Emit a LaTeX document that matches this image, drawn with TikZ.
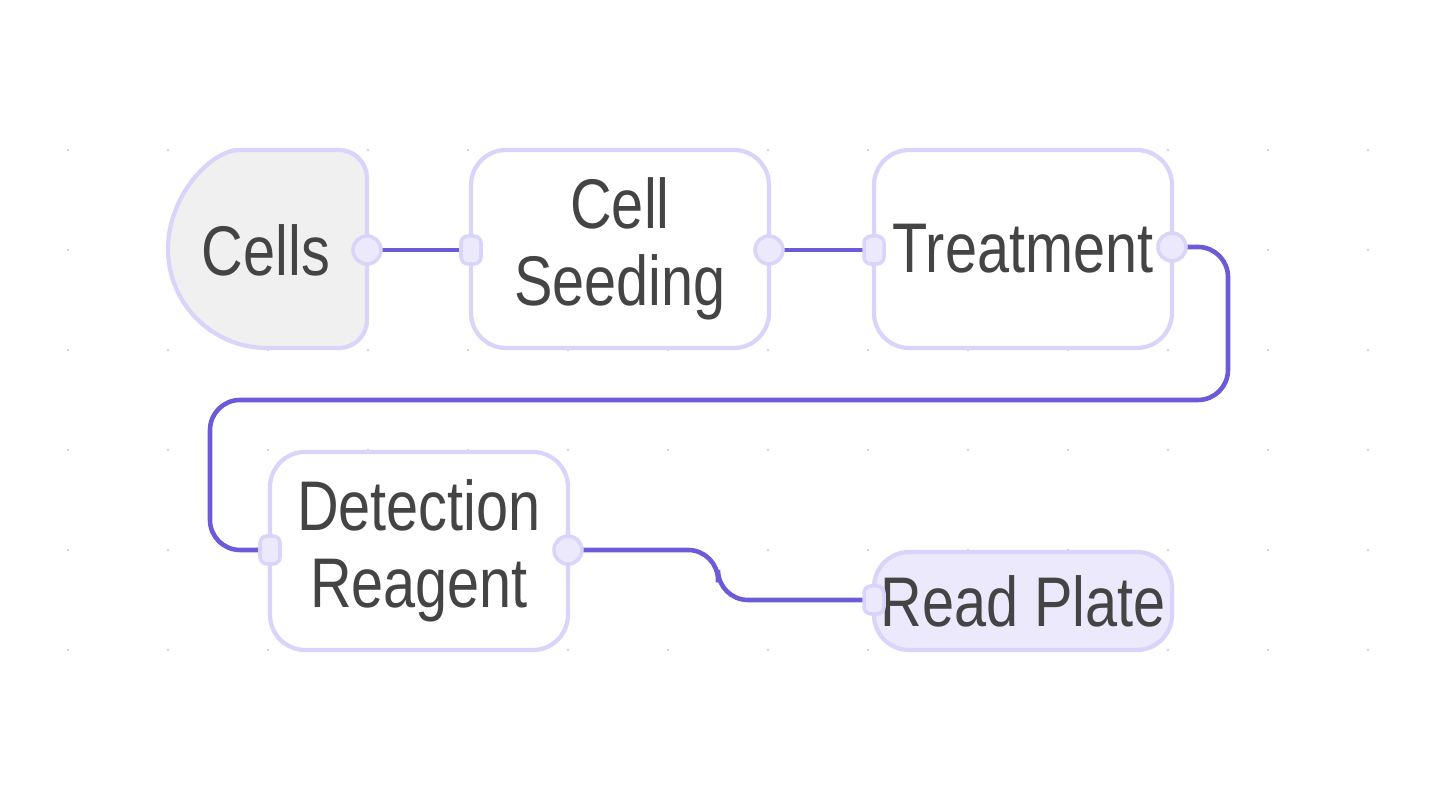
\documentclass[tikz,border=0pt]{standalone}
\usepackage{fontspec}
\setmainfont{Liberation Sans}[FakeStretch=0.82]
\usetikzlibrary{positioning}
\definecolor{edge}{HTML}{D8D4FA}
\definecolor{wire}{HTML}{6B5BD8}
\definecolor{lilac}{HTML}{ECE9FC}
\definecolor{txt}{HTML}{444444}
\tikzset{
	stage/.style={draw=edge, line width=1.2pt, rounded corners=10pt, fill=white, minimum width=2.98cm, minimum height=1.98cm, text=txt, font=\fontsize{20}{22}\selectfont, align=center, inner sep=0pt},
	inport/.style={draw=edge, fill=lilac, line width=1pt, rounded corners=2pt, minimum width=0.2cm, minimum height=0.28cm, inner sep=0pt},
	outport/.style={draw=edge, fill=lilac, line width=1pt, circle, minimum size=0.28cm, inner sep=0pt},
	link/.style={draw=wire, line width=1.3pt, rounded corners=0.3cm}
}
\begin{document}
\begin{tikzpicture}
	\useasboundingbox[fill=white] (0,0) rectangle (14.4,8);
	\foreach \x in {0.68,1.68,...,13.7}
		\foreach \y in {1.5,2.5,...,6.5}
			\fill[gray!45] (\x,\y) circle [radius=0.012];

	% Cells
	\draw[draw=edge, line width=1.2pt, fill=gray!12, rounded corners=8pt]
		(3.67,6.5) -- (2.67,6.5) [sharp corners] arc [start angle=90, end angle=270, radius=0.99] [rounded corners=8pt] -- (3.67,4.52) -- cycle;
	\node[text=txt, font=\fontsize{20}{22}\selectfont] (cells) at (2.66,5.5) {Cells};

	\node[stage] (seed) at (6.2,5.51) {Cell\\Seeding};
	\node[stage] (trt) at (10.23,5.51) {Treatment};
	\node[stage] (det) at (4.19,2.49) {Detection\\Reagent};
	\node[stage, fill=lilac, minimum height=0.98cm] (read) at (10.23,1.99) {Read Plate};

	\coordinate (c1) at (12.28,4.0);
	\coordinate (c2) at (2.10,4.0);
	\coordinate (c3) at (7.18,2.0);

	\coordinate (cellsout) at (3.67,5.5);
	\coordinate (seedin) at (4.71,5.5);
	\coordinate (seedout) at (7.69,5.5);
	\coordinate (trtin) at (8.74,5.5);
	\coordinate (trtout) at (11.72,5.53);
	\coordinate (detin) at (2.70,2.5);
	\coordinate (detout) at (5.68,2.5);
	\coordinate (readin) at (8.74,2.0);

	\draw[link] (cellsout) -- (seedin);
	\draw[link] (seedout) -- (trtin);
	\draw[link] (trtout) -| (c1) -- (c2) |- (detin);
	\draw[link] (detout) -| (c3) |- (readin);

	% ports on top
	\foreach \p in {cellsout,seedout,trtout,detout}
		\node[outport] at (\p) {};
	\foreach \p in {seedin,trtin,detin,readin}
		\node[inport] at (\p) {};
\end{tikzpicture}
\end{document}
